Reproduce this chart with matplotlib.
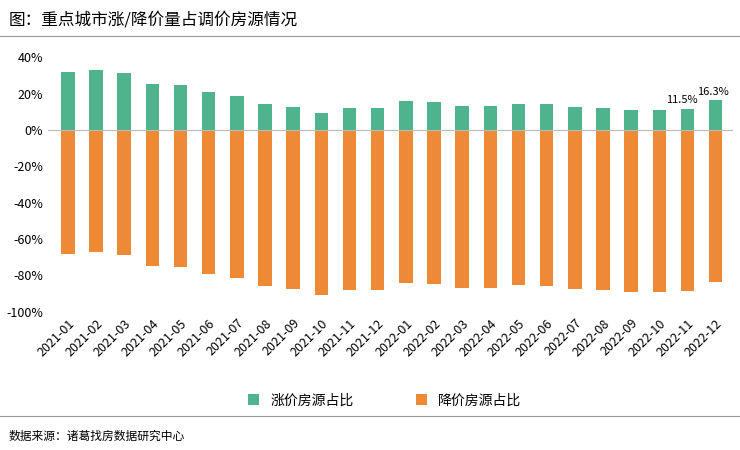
import matplotlib.pyplot as plt
import numpy as np

plt.rcParams['font.family'] = ['Noto Sans CJK SC', 'DejaVu Sans']

months = ['2021-%02d' % i for i in range(1, 13)] + ['2022-%02d' % i for i in range(1, 13)]
up = [32, 33, 31.5, 25, 24.5, 21, 18.5, 14, 12.5, 9.5, 12, 12,
      16, 15.5, 13, 13, 14.5, 14, 12.5, 12, 11, 11, 11.5, 16.3]
down = [-68, -67, -68.5, -75, -75.5, -79, -81.5, -86, -87.5, -90.5, -88, -88,
        -84, -84.5, -87, -87, -85.5, -86, -87.5, -88, -89, -89, -88.5, -83.7]

fig = plt.figure(figsize=(7.4, 4.5), dpi=100)
ax = fig.add_axes([0.065, 0.307, 0.925, 0.566])
x = np.arange(len(months))
ax.bar(x, up, width=0.48, color='#4fb38e', label='涨价房源占比')
ax.bar(x, down, width=0.48, color='#ee8a36', label='降价房源占比')
ax.axhline(0, color='#bbbbbb', lw=0.8)
ax.text(x[-2] - 0.2, up[-2] + 2, '11.5%', ha='center', va='bottom', fontsize=8)
ax.text(x[-1] - 0.1, up[-1] + 2, '16.3%', ha='center', va='bottom', fontsize=8)
ax.set_ylim(-100, 40)
ax.set_xlim(-0.7, len(months) - 0.4)
ax.set_yticks(range(-100, 41, 20))
ax.set_yticklabels(['%d%%' % v for v in range(-100, 41, 20)], fontsize=9)
ax.set_xticks(x)
ax.set_xticklabels(months, rotation=45, ha='right', rotation_mode='anchor', fontsize=9)
ax.tick_params(length=0)
for s in ['top', 'right', 'left', 'bottom']:
    ax.spines[s].set_visible(False)
fig.legend(*ax.get_legend_handles_labels(), loc='center', bbox_to_anchor=(0.52, 0.11),
           ncol=2, frameon=False, fontsize=10, columnspacing=4.5,
           handlelength=0.8, handleheight=0.8)

fig.text(0.012, 0.955, '图：重点城市涨/降价量占调价房源情况', fontsize=12, va='center')
fig.add_artist(plt.Line2D([0, 1], [0.92, 0.92], color='#999999', lw=0.8))
fig.add_artist(plt.Line2D([0, 1], [0.075, 0.075], color='#999999', lw=0.8))
fig.text(0.012, 0.03, '数据来源：诸葛找房数据研究中心', fontsize=8.5, va='center')
fig.savefig('out.png')
